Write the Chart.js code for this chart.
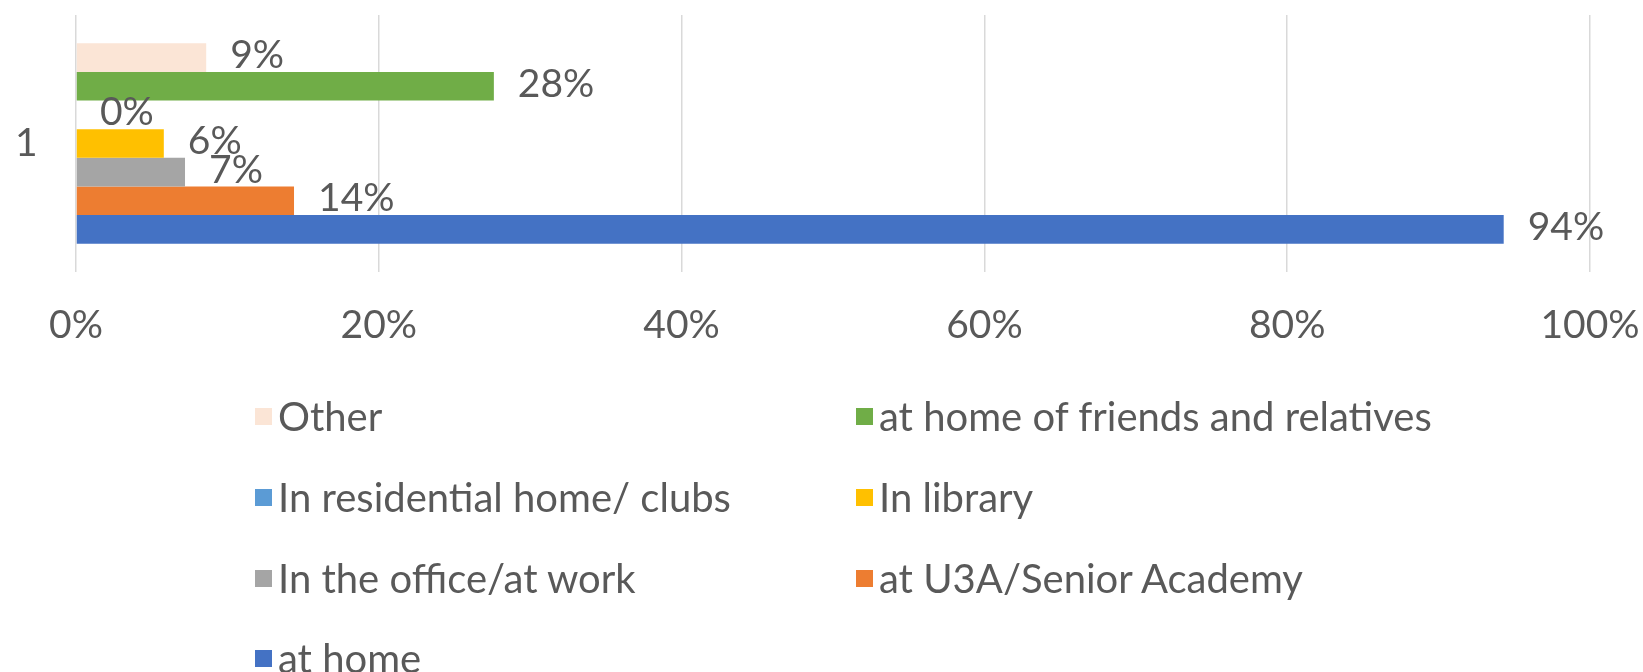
<!DOCTYPE html>
<html>
<head>
<meta charset="utf-8">
<script src="https://cdn.jsdelivr.net/npm/chart.js@4.4.1/dist/chart.umd.min.js"></script>
<style>
  html, body { margin: 0; padding: 0; background: #fff; }
  #wrap { position: relative; width: 1643px; height: 672px; }
  #legend { position: absolute; left: 0; top: 0; width: 1643px; height: 672px; pointer-events: none; }
  .legend-item { position: absolute; display: flex; align-items: center; font-family: Lato, sans-serif; font-size: 40px; color: #595959; white-space: nowrap; }
  .legend-box { width: 17px; height: 17px; margin-right: 6px; }
</style>
</head>
<body>
<div id="wrap">
  <canvas id="placesChart" width="1643" height="672"></canvas>
  <div id="legend"></div>
</div>
<script>
// Chart data
const categories = ['1'];
const seriesNames = ['Other', 'at home of friends and relatives', 'In residential home/ clubs', 'In library', 'In the office/at work', 'at U3A/Senior Academy', 'at home'];
const seriesValues = [8.6, 27.6, 0, 5.8, 7.2, 14.4, 94.3];
const seriesColors = ['#FBE5D6', '#70AD47', '#5B9BD5', '#FFC000', '#A5A5A5', '#ED7D31', '#4472C4'];
const tickValues = [0, 20, 40, 60, 80, 100];

const textColor = '#595959';
const fontFamily = 'Lato, sans-serif';
const fontSize = 39;

// Draw value labels just past the end of each bar
const valueLabels = {
  id: 'valueLabels',
  afterDatasetsDraw(chart) {
    const ctx = chart.ctx;
    ctx.save();
    ctx.font = `${fontSize}px ${fontFamily}`;
    ctx.fillStyle = textColor;
    ctx.textAlign = 'left';
    ctx.textBaseline = 'middle';
    chart.data.datasets.forEach((ds, i) => {
      const meta = chart.getDatasetMeta(i);
      meta.data.forEach((bar, j) => {
        ctx.fillText(Math.round(ds.data[j]) + '%', bar.x + 24, bar.y - 2);
      });
    });
    ctx.restore();
  }
};

const ctx = document.getElementById('placesChart').getContext('2d');
const placesChart = new Chart(ctx, {
  type: 'bar',
  data: {
    labels: categories,
    datasets: seriesNames.map((name, i) => ({
      label: name,
      data: [seriesValues[i]],
      backgroundColor: seriesColors[i],
      barPercentage: 1,
      categoryPercentage: 0.78,
    })),
  },
  options: {
    indexAxis: 'y',
    responsive: false,
    animation: false,
    layout: { padding: { top: 15, right: 53, bottom: 330, left: 15 } },
    plugins: {
      legend: { display: false },
      tooltip: { enabled: false },
    },
    scales: {
      x: {
        min: 0,
        max: 100,
        afterBuildTicks: (scale) => { scale.ticks = tickValues.map(v => ({ value: v })); },
        afterFit: (scale) => { scale.height = 70; },
        // invisible tick marks push the labels down without eating plot width
        grid: { color: '#D9D9D9', lineWidth: 1.5, drawTicks: true, tickLength: 30, tickColor: 'rgba(0,0,0,0)' },
        border: { display: false },
        ticks: {
          padding: 0,
          color: textColor,
          font: { family: fontFamily, size: fontSize },
          callback: (v) => v + '%',
        },
      },
      y: {
        afterFit: (scale) => { scale.width = 61; },
        grid: { display: false },
        border: { display: false },
        ticks: {
          padding: 0,
          crossAlign: 'far',
          color: textColor,
          font: { family: fontFamily, size: fontSize, lineHeight: 0.7 },
        },
      },
    },
  },
  plugins: [valueLabels],
});

// Legend in two columns, same order as the datasets
const legendBox = document.getElementById('legend');
const legendCols = [255, 856];
const legendRows = [416, 497, 578, 658];
placesChart.data.datasets.forEach((ds, i) => {
  const item = document.createElement('div');
  item.className = 'legend-item';
  item.style.left = legendCols[i % 2] + 'px';
  item.style.top = (legendRows[Math.floor(i / 2)] - 24) + 'px';
  item.style.height = '48px';
  item.innerHTML = `<span class="legend-box" style="background:${ds.backgroundColor}"></span><span>${ds.label}</span>`;
  legendBox.appendChild(item);
});
</script>
</body>
</html>
